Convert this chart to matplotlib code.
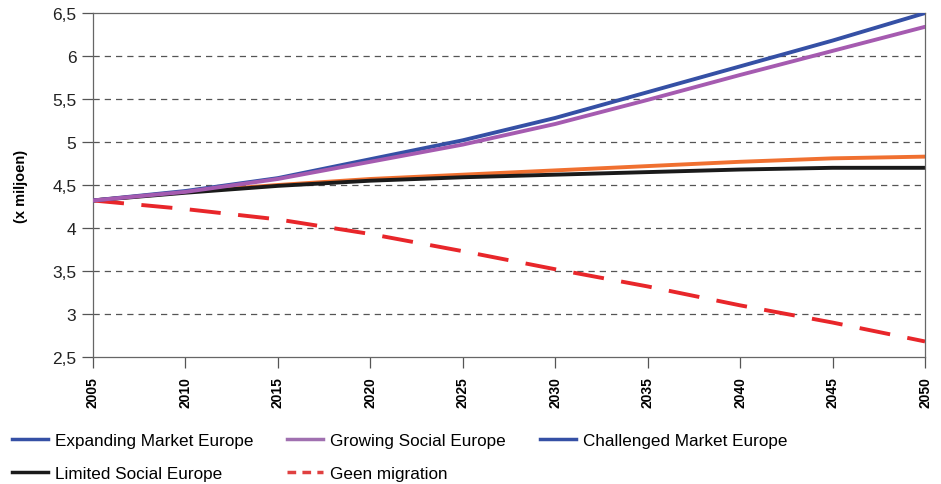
import matplotlib
matplotlib.use("Agg")
import matplotlib.pyplot as plt
from matplotlib.lines import Line2D
import numpy as np

plt.rcParams['font.family'] = ['Liberation Sans', 'DejaVu Sans']

# DATA (x miljoen)
years = [2005, 2010, 2015, 2020, 2025, 2030, 2035, 2040, 2045, 2050]
expanding = [4.32, 4.43, 4.58, 4.80, 5.02, 5.28, 5.58, 5.88, 6.18, 6.50]
growing = [4.32, 4.42, 4.57, 4.77, 4.97, 5.21, 5.49, 5.78, 6.06, 6.34]
challenged = [4.32, 4.42, 4.50, 4.57, 4.62, 4.67, 4.72, 4.77, 4.81, 4.83]
limited = [4.32, 4.41, 4.49, 4.55, 4.59, 4.62, 4.65, 4.68, 4.70, 4.70]
geen = [4.32, 4.22, 4.10, 3.93, 3.73, 3.52, 3.32, 3.10, 2.90, 2.68]

yticks = [2.5, 3, 3.5, 4, 4.5, 5, 5.5, 6, 6.5]
ytick_labels = ['2,5', '3', '3,5', '4', '4,5', '5', '5,5', '6', '6,5']

BLUE = '#3550a5'
PURPLE = '#a55bb0'
ORANGE = '#f07030'
BLACK = '#1a1a1a'
RED = '#e8262a'

fig = plt.figure(figsize=(9.41, 4.85), dpi=100)
ax = fig.add_axes([0.0988, 0.262, 0.8842, 0.709])

# GRID
for v in yticks[1:-1]:
    ax.axhline(v, color='#555555', lw=0.9, ls=(0, (5, 4)), zorder=0)

ax.plot(years, expanding, color=BLUE, lw=2.8, solid_capstyle='round', zorder=3)
ax.plot(years, growing, color=PURPLE, lw=2.8, solid_capstyle='round', zorder=3)
ax.plot(years, challenged, color=ORANGE, lw=2.8, solid_capstyle='round', zorder=2)
ax.plot(years, limited, color=BLACK, lw=2.8, solid_capstyle='round', zorder=2)
ax.plot(years, geen, color=RED, lw=2.8, ls=(0, (8, 4.5)), zorder=2)

ax.set_xlim(2005, 2050)
ax.set_ylim(2.5, 6.5)
ax.set_xticks(years)
ax.set_xticklabels([str(y) for y in years], rotation=90, fontweight='bold', fontsize=10)
ax.set_yticks(yticks)
ax.set_yticklabels(ytick_labels, fontsize=12.5, color='#222222')
ax.tick_params(axis='both', direction='out', length=8, width=0.9, color='#555555')
ax.tick_params(axis='x', pad=6)
ax.tick_params(axis='y', pad=4)
for s in ax.spines.values():
    s.set_color('#666666')
    s.set_linewidth(0.9)

ax.set_ylabel('(x miljoen)', fontweight='bold', fontsize=10.5, labelpad=17)

# LEGEND (colours as shown in the source legend)
handles = [
    Line2D([0], [0], color=BLUE, lw=2.5),
    Line2D([0], [0], color=BLACK, lw=2.5),
    Line2D([0], [0], color='#a070b0', lw=2.5),
    Line2D([0], [0], color='#e04040', lw=2.5, ls=(0, (2.5, 1.8))),
    Line2D([0], [0], color=BLUE, lw=2.5),
    Line2D([0], [0], color='none'),
]
labels = ['Expanding Market Europe', 'Limited Social Europe',
          'Growing Social Europe', 'Geen migration',
          'Challenged Market Europe', '']
fig.legend(handles, labels, ncol=3, loc='upper left', bbox_to_anchor=(0.009, 0.112),
           frameon=False, fontsize=12.3, handlelength=2.1, handletextpad=0.4,
           columnspacing=2.0, labelspacing=1.05, borderaxespad=0, borderpad=0.2)

fig.savefig('out.png', dpi=100)
